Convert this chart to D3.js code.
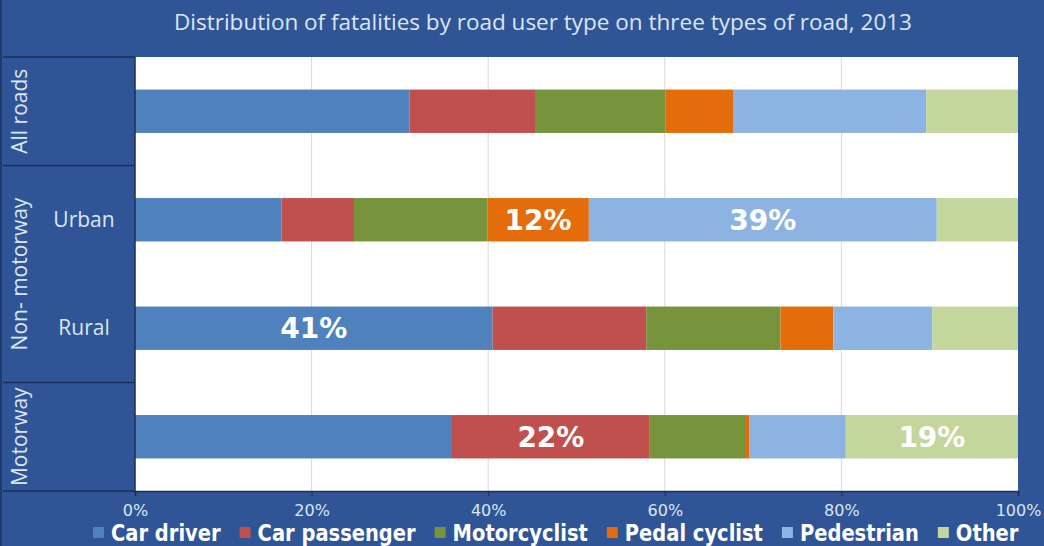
<!DOCTYPE html>
<html>
<head>
<meta charset="utf-8">
<script src="https://cdn.jsdelivr.net/npm/d3@7"></script>
<style>
  body { margin: 0; background: #2F5597; }
  svg { display: block; }
</style>
</head>
<body>
<div id="chart"></div>
<script>
// road types (rows) and how they group on the left axis
const roads = ["All roads", "Urban", "Rural", "Motorway"];
const roadGroups = ["All roads", "Non- motorway", "Non- motorway", "Motorway"];
const subLabels = ["", "Urban", "Rural", ""];

// road user types (series), share of fatalities in %
const userTypes = ["Car driver", "Car passenger", "Motorcyclist", "Pedal cyclist", "Pedestrian", "Other"];
const carDriver    = [31.1, 16.6, 40.5, 35.9];
const carPassenger = [14.2, 8.2, 17.4, 22.4];
const motorcyclist = [14.8, 15.1, 15.2, 10.9];
const pedalCyclist = [7.7, 11.5, 6.0, 0.4];
const pedestrian   = [21.8, 39.4, 11.2, 10.9];
const other        = [10.4, 9.2, 9.7, 19.5];

// the few segments that carry a value label
const shownLabels = [
  ["Urban", "Pedal cyclist", "12%"],
  ["Urban", "Pedestrian", "39%"],
  ["Rural", "Car driver", "41%"],
  ["Motorway", "Car passenger", "22%"],
  ["Motorway", "Other", "19%"]
];

const colors = ["#4F81BD", "#C0504D", "#77933C", "#E46C0A", "#8DB3E2", "#C3D69B"];
const seriesValues = [carDriver, carPassenger, motorcyclist, pedalCyclist, pedestrian, other];

const table = roads.map((r, i) => {
  const row = { road: r };
  userTypes.forEach((t, j) => row[t] = seriesValues[j][i]);
  return row;
});

const W = 1044, H = 546;
const plotLeft = 135, plotRight = 1018, plotTop = 57, plotBottom = 491;

const svg = d3.select("#chart").append("svg").attr("width", W).attr("height", H);

svg.append("rect").attr("width", W).attr("height", H).attr("fill", "#2F5597");
svg.append("rect").attr("width", 2).attr("height", H).attr("fill", "#1F3A6B");

svg.append("text")
  .attr("x", 543).attr("y", 30)
  .attr("text-anchor", "middle")
  .attr("font-family", "Open Sans")
  .attr("font-size", 22.5)
  .attr("fill", "#DCE6F2")
  .text("Distribution of fatalities by road user type on three types of road, 2013");

const x = d3.scaleLinear().domain([0, 100]).range([plotLeft, plotRight]);
const y = d3.scaleBand().domain(roads).range([plotTop, plotBottom]).paddingInner(0.6).paddingOuter(0.3);

// plot area
svg.append("rect")
  .attr("x", plotLeft).attr("y", plotTop)
  .attr("width", plotRight - plotLeft).attr("height", plotBottom - plotTop)
  .attr("fill", "#FFFFFF");

svg.append("g")
  .selectAll("line")
  .data([20, 40, 60, 80])
  .enter().append("line")
  .attr("x1", d => x(d)).attr("x2", d => x(d))
  .attr("y1", plotTop).attr("y2", plotBottom)
  .attr("stroke", "#D9D9D9");

const stack = d3.stack().keys(userTypes)(table);

svg.append("g")
  .selectAll("g")
  .data(stack)
  .enter().append("g")
  .attr("fill", (d, i) => colors[i])
  .selectAll("rect")
  .data(d => d)
  .enter().append("rect")
  .attr("x", d => x(d[0]))
  .attr("width", d => x(d[1]) - x(d[0]))
  .attr("y", d => y(d.data.road))
  .attr("height", y.bandwidth());

// value labels
svg.append("g")
  .selectAll("text")
  .data(shownLabels)
  .enter().append("text")
  .attr("x", d => {
    const s = stack[userTypes.indexOf(d[1])][roads.indexOf(d[0])];
    return (x(s[0]) + x(s[1])) / 2;
  })
  .attr("y", d => y(d[0]) + y.bandwidth() / 2 + 10)
  .attr("text-anchor", "middle")
  .attr("font-family", "DejaVu Sans")
  .attr("font-weight", "bold")
  .attr("font-size", 28)
  .attr("fill", "#FFFFFF")
  .text(d => d[2]);

// x axis
const xAxis = svg.append("g")
  .attr("transform", `translate(0,${plotBottom})`)
  .call(d3.axisBottom(x).tickValues([0, 20, 40, 60, 80, 100]).tickSize(5).tickFormat(d => d + "%"));
xAxis.select(".domain").attr("stroke", "#1C2F57").attr("stroke-width", 1.5);
xAxis.selectAll(".tick line").attr("stroke", "#1C2F57");
xAxis.selectAll(".tick text")
  .attr("y", 25).attr("dy", null)
  .attr("font-family", "DejaVu Sans")
  .attr("font-size", 16)
  .attr("fill", "#DCE6F2");

// category panel lines
const step = y.step();
const sepYs = [plotTop, plotTop + step, plotTop + 3 * step, plotBottom];
svg.append("g")
  .selectAll("line")
  .data(sepYs)
  .enter().append("line")
  .attr("x1", 3).attr("x2", plotLeft)
  .attr("y1", d => d).attr("y2", d => d)
  .attr("stroke", "#1C2F57").attr("stroke-width", 1.5);
svg.append("line")
  .attr("x1", plotLeft).attr("x2", plotLeft)
  .attr("y1", plotTop).attr("y2", plotBottom + 2)
  .attr("stroke", "#1C2F57").attr("stroke-width", 1.5);

// group labels (rotated)
const groups = Array.from(new Set(roadGroups)).map(g => {
  const idx = roads.filter((r, i) => roadGroups[i] === g);
  const y0 = y(idx[0]) - y.step() * y.paddingInner() / 2;
  const y1 = y(idx[idx.length - 1]) + y.bandwidth() + y.step() * y.paddingInner() / 2;
  return { name: g, mid: (y0 + y1) / 2 };
});
svg.append("g")
  .selectAll("text")
  .data(groups)
  .enter().append("text")
  .attr("transform", d => `translate(27,${d.mid}) rotate(-90)`)
  .attr("text-anchor", "middle")
  .attr("font-family", "Open Sans")
  .attr("font-size", 21)
  .attr("fill", "#DCE6F2")
  .text(d => d.name);

svg.append("g")
  .selectAll("text")
  .data(roads.filter((r, i) => subLabels[i]))
  .enter().append("text")
  .attr("x", 84)
  .attr("y", d => y(d) + y.bandwidth() / 2 + 7)
  .attr("text-anchor", "middle")
  .attr("font-family", "Open Sans")
  .attr("font-size", 21)
  .attr("fill", "#DCE6F2")
  .text(d => subLabels[roads.indexOf(d)]);

// legend
const legend = svg.append("g");
let lx = 93;
userTypes.forEach((t, i) => {
  legend.append("rect")
    .attr("x", lx).attr("y", 527)
    .attr("width", 11).attr("height", 11)
    .attr("fill", colors[i]);
  const txt = legend.append("text")
    .attr("transform", `translate(${lx + 18},541) scale(1,1.18)`)
    .attr("font-family", "DejaVu Sans")
    .attr("font-weight", "bold")
    .attr("font-size", 19.5)
    .attr("fill", "#FFFFFF")
    .text(t);
  lx += 18 + txt.node().getComputedTextLength() + 19;
});
</script>
</body>
</html>
